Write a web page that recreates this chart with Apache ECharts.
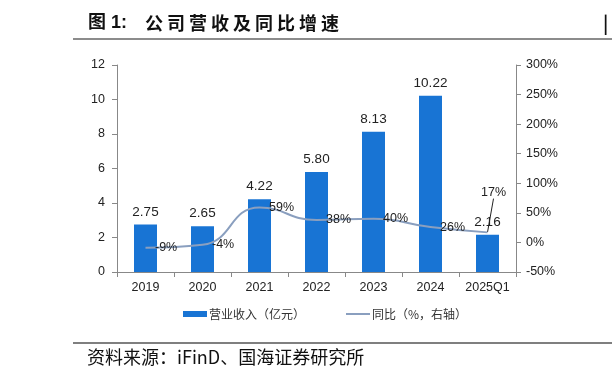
<!DOCTYPE html>
<html><head><meta charset="utf-8">
<script src="https://cdn.jsdelivr.net/npm/echarts@6/dist/echarts.min.js"></script>
<style>html,body{margin:0;padding:0;background:#fff;}#c{width:612px;height:381px;}</style>
</head><body><div id="c"></div>
<script>
const categories = ['2019','2020','2021','2022','2023','2024','2025Q1'];
const revenue = [2.75, 2.65, 4.22, 5.80, 8.13, 10.22, 2.16];
const yoy = [-9, -4, 59, 38, 40, 26, 17];
const leftTicks = {min:0, max:12, interval:2};
const rightTicks = {min:-50, max:300, interval:50};
const titleHead = '图 1:';
const titleBody = '公司营收及同比增速';
const sourceText = '资料来源：iFinD、国海证券研究所';
const legendNames = ['营业收入（亿元）', '同比（%，右轴）'];

const chart = echarts.init(document.getElementById('c'));
const font = 'Arial, "Noto Sans CJK SC", sans-serif';
const graphics = [
  {type:'text', left:88, top:14, style:{text:titleHead, font:'bold 18px Arial, "Noto Sans CJK SC"', fill:'#111'}},
  {type:'line', shape:{x1:73,y1:39,x2:612,y2:39}, style:{stroke:'#666', lineWidth:1.5}},
  {type:'text', left:603, top:14, style:{text:'|', font:'bold 18px "Noto Sans CJK SC"', fill:'#111'}},
  {type:'line', shape:{x1:73,y1:343,x2:612,y2:343}, style:{stroke:'#555', lineWidth:1.5}},
  {type:'text', left:87, top:348, style:{text:sourceText, font:'18px "Noto Sans CJK SC"', fill:'#111'}}
];
titleBody.split('').forEach((ch, i) => {
  graphics.push({type:'text', left:145 + i*22, top:14, style:{text:ch, font:'bold 18px "Noto Sans CJK SC"', fill:'#111'}});
});
const lastIdx = yoy.length - 1;
const yoyData = yoy.map((v, i) => i === lastIdx ? {value:v, labelLine:{show:true}} : {value:v, labelLine:{show:false}});
chart.setOption({
  animation:false,
  textStyle:{fontFamily:font},
  graphic:graphics,
  grid:{left:117, right:96, top:65, bottom:109},
  legend:{
    bottom:56, left:178, itemGap:40, itemWidth:24, itemHeight:6,
    textStyle:{fontSize:12, color:'#333', fontFamily:'"Noto Sans CJK SC"', padding:[0,0,0,-3]},
    data:[{name:legendNames[0], icon:'rect'}, {name:legendNames[1], itemStyle:{opacity:0}}]
  },
  xAxis:{
    type:'category', data:categories,
    axisLine:{lineStyle:{color:'#888'}},
    axisTick:{show:true, alignWithLabel:false, length:5, lineStyle:{color:'#888'}},
    axisLabel:{color:'#222', fontSize:12.5, margin:9, interval:0}
  },
  yAxis:[
    {type:'value', min:leftTicks.min, max:leftTicks.max, interval:leftTicks.interval,
     axisLine:{show:true, lineStyle:{color:'#888'}}, axisTick:{show:true, length:5, lineStyle:{color:'#888'}},
     splitLine:{show:false}, axisLabel:{color:'#222', fontSize:12.5, margin:12}},
    {type:'value', min:rightTicks.min, max:rightTicks.max, interval:rightTicks.interval,
     axisLine:{show:true, lineStyle:{color:'#888'}}, axisTick:{show:true, length:5, lineStyle:{color:'#888'}},
     splitLine:{show:false}, axisLabel:{color:'#222', fontSize:12.5, margin:10, formatter:'{value}%'}}
  ],
  series:[
    {name:legendNames[0], type:'bar', data:revenue, barWidth:23, itemStyle:{color:'#1874d4'},
     label:{show:true, position:'top', distance:6, color:'#222', fontSize:13.5, formatter:p=>p.value.toFixed(2)}},
    {name:legendNames[1], type:'line', yAxisIndex:1, data:yoyData, smooth:true,
     symbol:'circle', symbolSize:1, showSymbol:true, itemStyle:{color:'rgba(138,159,191,0)'},
     lineStyle:{color:'#8a9fbf', width:2},
     label:{show:true, position:'right', distance:9, color:'#222', fontSize:12.5, formatter:'{c}%'},
     labelLine:{lineStyle:{color:'#222', width:1}},
     labelLayout:function(p){ if(p.dataIndex===lastIdx){ return {dx:-16, dy:-40}; } return {}; }
    }
  ]
});
</script></body></html>
